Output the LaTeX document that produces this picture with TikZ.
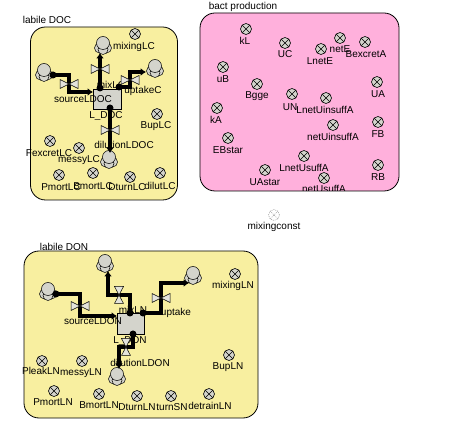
\documentclass[tikz,border=0pt]{standalone}
\usepackage{fontspec}
\setmainfont{Liberation Sans}
\usetikzlibrary{arrows.meta}
\definecolor{sectorY}{HTML}{F8EFA0}
\definecolor{sectorP}{HTML}{FFB0DC}
\definecolor{iconG}{HTML}{D4D4CC}
\definecolor{valveG}{HTML}{E4E4DC}
\tikzset{
  sector/.style={draw=black,line width=0.8pt,rounded corners=15pt},
  lab/.style={font=\fontsize{10}{11}\selectfont,inner sep=0pt,text=black},
  convnode/.style={circle,draw=black,fill=iconG,line width=0.6pt,minimum size=11pt,inner sep=0pt,
    path picture={\draw[line width=0.6pt] (path picture bounding box.north west)--(path picture bounding box.south east)
      (path picture bounding box.north east)--(path picture bounding box.south west);}},
  ghostnode/.style={circle,draw=gray!70,dash pattern=on 1pt off 1pt,fill=white,line width=0.6pt,minimum size=11pt,inner sep=0pt,
    path picture={\draw[gray!70,line width=0.6pt] (path picture bounding box.north west)--(path picture bounding box.south east)
      (path picture bounding box.north east)--(path picture bounding box.south west);}},
  stock/.style={draw=black,fill=iconG,line width=0.7pt,inner sep=0pt,anchor=north west},
  flowline/.style={line width=4pt,draw=black,-{Latex[length=5.5pt,width=8pt]}},
  flowdot/.style={circle,fill=black,inner sep=0pt,minimum size=7pt},
  cloudpart/.style={draw=black,fill=iconG,line width=0.5pt},
  valvepart/.style={draw=black,fill=valveG,line width=0.5pt},
  anchorpt/.style={inner sep=0pt,minimum size=0pt},
}
\newcommand{\conv}[6]{\node[convnode] (#1) at (#2,#3) {};\node[lab] (#1t) at (#5,#6) {#4};}
\newcommand{\cloudicon}[3]{%
  \node[anchorpt] (#1) at (#2,#3) {};
  \draw[cloudpart] (#2-3.5,#3+4) circle (5pt);
  \draw[cloudpart] (#2+3.5,#3+4) circle (5pt);
  \draw[cloudpart] (#2,#3+5.5) circle (5pt);
  \draw[cloudpart] (#2,#3-1) circle (6.5pt);
}
\newcommand{\bowH}[1]{%
  \draw[valvepart] (#1.center) -- ++(-9,-4.5) -- ++(0,9) -- cycle;
  \draw[valvepart] (#1.center) -- ++(9,-4.5) -- ++(0,9) -- cycle;}
\newcommand{\bowV}[1]{%
  \draw[valvepart] (#1.center) -- ++(-4.5,-8.5) -- ++(9,0) -- cycle;
  \draw[valvepart] (#1.center) -- ++(-4.5,8.5) -- ++(9,0) -- cycle;}
\begin{document}
\begin{tikzpicture}[x=1pt,y=-1pt]
\useasboundingbox (0,0) rectangle (450,438);
% sectors
\draw[sector,fill=sectorY] (30.5,27) rectangle (177.5,200);
\draw[sector,fill=sectorP] (200,13) rectangle (399,191);
\draw[sector,fill=sectorY] (24,251) rectangle (258,418);
\node[lab] (secA) at (47,20) {labile DOC};
\node[lab] (secB) at (243,7) {bact production};
\node[lab] (secC) at (64,247) {labile DON};
% stocks
\node[stock,minimum width=28pt,minimum height=20pt] (LDOC) at (93,89) {};
\node[stock,minimum width=27pt,minimum height=21pt] (LDON) at (117,313) {};
% clouds
\cloudicon{cTopC}{103}{44}
\cloudicon{cLeftC}{44}{71}
\cloudicon{cRightC}{155}{67}
\cloudicon{cBotC}{109}{158}
\cloudicon{cLeftN}{48}{290}
\cloudicon{cTopN}{105}{262}
\cloudicon{cRightN}{193}{274}
\cloudicon{cBotN}{117}{375}
% stock and flow labels
\node[lab] (tA) at (83,99) {sourceLDOC};
\node[lab] (tB) at (111,85) {mixLC};
\node[lab] (tC) at (143,91) {uptakeC};
\node[lab] (tD) at (106,116) {L\_DOC};
\node[lab] (tE) at (124,145) {dilutionLDOC};
\node[lab] (tF) at (93,321) {sourceLDON};
\node[lab] (tG) at (133,310) {mixLN};
\node[lab] (tH) at (176,313) {uptake};
\node[lab] (tI) at (130,341) {L\_DON};
\node[lab] (tJ) at (140,363) {dilutionLDON};
% converters DOC
\conv{mixingLC}{135}{34}{mixingLC}{134}{47}
\conv{BupLC}{157}{114}{BupLC}{156}{126}
\conv{FexcretLC}{50}{141}{FexcretLC}{49}{153}
\conv{messyLC}{79}{148}{messyLC}{79}{160}
\conv{PmortLC}{59}{175}{PmortLC}{61}{187}
\conv{BmortLC}{93}{173}{BmortLC}{93}{186}
\conv{DturnLC}{130}{177}{DturnLC}{127}{187}
\conv{dilutLC}{160}{173}{dilutLC}{160}{186}
% converters bact
\conv{kL}{246}{29}{kL}{245}{41}
\conv{UC}{285}{43}{UC}{285}{54}
\conv{LnetE}{321}{49}{LnetE}{320}{61}
\conv{netE}{340}{38}{netE}{340}{49}
\conv{BexcretA}{365}{42}{BexcretA}{366}{54}
\conv{uB}{223}{67}{uB}{223}{79}
\conv{Bgge}{257}{84}{Bgge}{257}{96}
\conv{UN}{292}{94}{UN}{290}{107}
\conv{LnetUinsuffA}{326}{98}{LnetUinsuffA}{325}{110}
\conv{UA}{377}{82}{UA}{378}{94}
\conv{kA}{217}{108}{kA}{216}{120}
\conv{netUinsuffA}{333}{125}{netUinsuffA}{333}{137}
\conv{FB}{378}{122}{FB}{378}{134}
\conv{EBstar}{228}{138}{EBstar}{228}{150}
\conv{LnetUsuffA}{304}{156}{LnetUsuffA}{304}{168}
\conv{UAstar}{265}{170}{UAstar}{265}{182}
\conv{RB}{378}{165}{RB}{378}{177}
\node[convnode] (netUsuffA) at (324,178) {};
\begin{scope}
\clip (200,170) rectangle (399,190.6);
\node[lab] (netUsuffAt) at (324,189) {netUsuffA};
\end{scope}
% ghost
\node[ghostnode] (mixingconst) at (274,215) {};
\node[lab] (mixingconstt) at (274,227) {mixingconst};
% converters DON
\conv{mixingLN}{235}{274}{mixingLN}{233}{286}
\conv{BupLN}{229}{355}{BupLN}{228}{367}
\conv{PleakLN}{42}{361}{PleakLN}{41}{371}
\conv{messyLN}{82}{361}{messyLN}{81}{373}
\conv{PmortLN}{54}{391}{PmortLN}{53}{402}
\conv{BmortLN}{99}{394}{BmortLN}{99}{405}
\conv{DturnLN}{137}{396}{DturnLN}{137}{407}
\conv{turnSN}{171}{396}{turnSN}{172}{407}
\conv{detrainLN}{209}{394}{detrainLN}{210}{406}
% valves
\node[anchorpt] (vLeftC) at (69,84) {};
\node[anchorpt] (vTopC) at (100,69) {};
\node[anchorpt] (vRightC) at (130,80) {};
\node[anchorpt] (vBotC) at (110,130) {};
\node[anchorpt] (vLeftN) at (80,306) {};
\node[anchorpt] (vTopN) at (119,295) {};
\node[anchorpt] (vRightN) at (161,298) {};
\node[anchorpt] (vBotN) at (126,347) {};
% flow ends
\node[flowdot] (sLeftC) at (53,75) {};
\node[anchorpt] (eLeftC) at (93,92) {};
\node[flowdot] (sTopC) at (100,88) {};
\node[anchorpt] (eTopC) at (100,53) {};
\node[flowdot] (sRightC) at (119,87) {};
\node[anchorpt] (eRightC) at (146,72) {};
\node[flowdot] (sBotC) at (110,108) {};
\node[anchorpt] (eBotC) at (110,153) {};
\node[flowdot] (sLeftN) at (56,294) {};
\node[anchorpt] (eLeftN) at (117,316) {};
\node[flowdot] (sTopN) at (130,313) {};
\node[anchorpt] (eTopN) at (108,271) {};
\node[flowdot] (sRightN) at (143,313) {};
\node[anchorpt] (eRightN) at (189,283) {};
\node[flowdot] (sBotN) at (133,334) {};
\node[anchorpt] (eBotN) at (119,369) {};
% flows
\draw[flowline] (sLeftC.center) -| (vLeftC.center) |- (eLeftC.center);
\draw[flowline] (sTopC.center) -- (eTopC.center);
\draw[flowline] (sRightC.center) -| (vRightC.center) |- (eRightC.center);
\draw[flowline] (sBotC.center) -- (eBotC.center);
\draw[flowline] (sLeftN.center) -| (vLeftN.center) |- (eLeftN.center);
\draw[flowline] (sTopN.center) |- (vTopN.center) -| (eTopN.center);
\draw[flowline] (sRightN.center) -| (vRightN.center) |- (eRightN.center);
\draw[flowline] (sBotN.center) |- (vBotN.center) -| (eBotN.center);
\bowH{vLeftC}
\bowH{vTopC}
\bowH{vRightC}
\bowH{vBotC}
\bowH{vLeftN}
\bowV{vTopN}
\bowH{vRightN}
\bowV{vBotN}
\end{tikzpicture}
\end{document}
